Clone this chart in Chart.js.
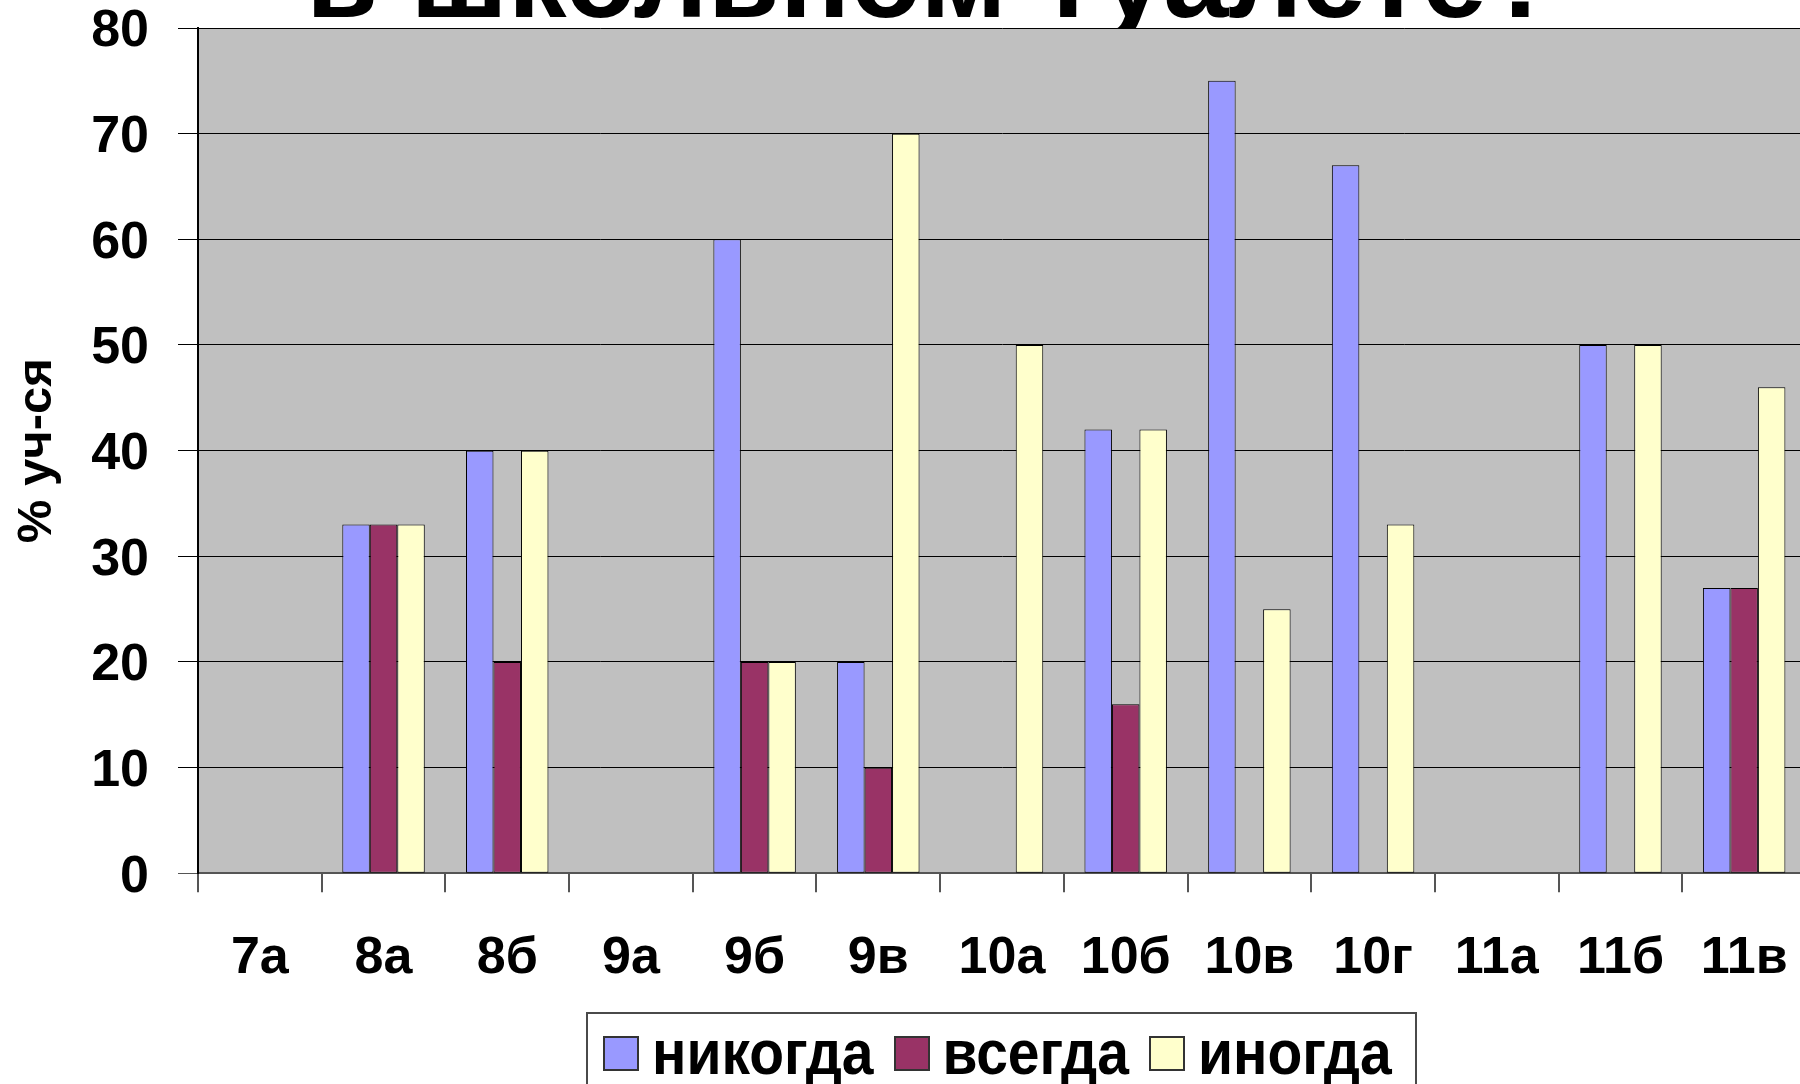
<!DOCTYPE html>
<html lang="ru">
<head>
    <meta charset="UTF-8">
    <meta name="viewport" content="width=device-width, initial-scale=1.0">
    <title>в школьном туалете?</title>
    <!-- Include Chart.js -->
    <script src="https://cdn.jsdelivr.net/npm/chart.js"></script>
    <style>
        html, body { margin: 0; padding: 0; width: 1800px; height: 1084px; overflow: hidden; background: #fff; }
        body { position: relative; font-family: "Liberation Sans", Arial, sans-serif; font-weight: bold; }
        #title { position: absolute; left: 306px; top: -82px; font-size: 117px; line-height: 1; white-space: nowrap; color: #000; z-index: 0; }
        #classChart { position: absolute; left: 0; top: 0; z-index: 1; }
        #legend { position: absolute; left: 586px; top: 1012px; width: 831px; height: 100px; box-sizing: border-box;
                  border: 2px solid #4a4a4a; background: #fff; display: flex; align-items: flex-start;
                  padding: 22px 0 0 15px; z-index: 2; }
        .item { display: flex; align-items: flex-start; margin-right: 20px; }
        .swatch { width: 36px; height: 35px; box-sizing: border-box; border: 2px solid #333; margin-right: 13px; }
        .label { font-size: 57px; line-height: 1; margin-top: -10px; transform: scaleY(1.12); transform-origin: 50% 48px; color: #000; }
    </style>
</head>
<body>
    <div id="title">в школьном туалете?</div>
    <canvas id="classChart" width="1830" height="1012"></canvas>
    <div id="legend"></div>

    <script>
        // Data
        const classes = ['7а', '8а', '8б', '9а', '9б', '9в', '10а', '10б', '10в', '10г', '11а', '11б', '11в'];
        const never = [0, 33, 40, 0, 60, 20, 0, 42, 75, 67, 0, 50, 27];
        const always = [0, 33, 20, 0, 20, 10, 0, 16, 0, 0, 0, 0, 27];
        const sometimes = [0, 33, 40, 0, 20, 70, 50, 42, 25, 33, 0, 50, 46];
        const seriesNames = ['никогда', 'всегда', 'иногда'];
        const seriesColors = ['#9999FF', '#993366', '#FFFFCC'];
        const yTicks = [0, 10, 20, 30, 40, 50, 60, 70, 80];

        const fontFamily = '"Liberation Sans", Arial, sans-serif';
        Chart.defaults.font.family = fontFamily;

        // Grey plot area like the old Excel charts
        const plotBackground = {
            id: 'plotBackground',
            beforeDraw(chart) {
                const { ctx, chartArea } = chart;
                ctx.save();
                ctx.fillStyle = '#C0C0C0';
                ctx.fillRect(chartArea.left, chartArea.top, chartArea.right - chartArea.left, chartArea.bottom - chartArea.top);
                ctx.restore();
            }
        };

        const seriesData = [never, always, sometimes];
        const datasets = seriesNames.map((name, i) => ({
            label: name,
            data: seriesData[i],
            backgroundColor: seriesColors[i],
            borderColor: '#000',
            borderWidth: 1,
            borderSkipped: false,
            categoryPercentage: 2 / 3,
            barPercentage: 1
        }));

        const ctx = document.getElementById('classChart').getContext('2d');
        new Chart(ctx, {
            type: 'bar',
            data: { labels: classes, datasets: datasets },
            options: {
                responsive: false,
                animation: false,
                devicePixelRatio: 1,
                layout: { padding: { top: 0, right: 24, left: 0, bottom: 0 } },
                plugins: {
                    legend: { display: false },
                    tooltip: { enabled: false }
                },
                scales: {
                    x: {
                        grid: { offset: true, drawOnChartArea: false, drawTicks: true, tickLength: 19, color: '#555', lineWidth: 2 },
                        border: { display: true, color: '#555', width: 2 },
                        ticks: { font: { size: 52, weight: 'bold' }, color: '#000', padding: 35, maxRotation: 0, autoSkip: false },
                        afterFit: (scale) => { scale.height = 138.7; }
                    },
                    y: {
                        min: 0,
                        max: 80,
                        afterBuildTicks: (scale) => { scale.ticks = yTicks.map(v => ({ value: v })); },
                        ticks: { font: { size: 52, weight: 'bold', lineHeight: 1 }, color: '#000', padding: 29, labelOffset: 4 },
                        grid: { color: (c) => (c.tick && c.tick.value === 0 ? '#555' : '#000'), lineWidth: 1, tickLength: 20 },
                        border: { color: '#000', width: 2 },
                        title: { display: true, text: '% уч-ся', color: '#000', font: { size: 49, weight: 'bold' }, padding: { top: 8, bottom: 0 } },
                        afterFit: (scale) => {
                            scale.width = 198;
                            scale.paddingTop = 28;
                            scale.paddingBottom = 26;
                        }
                    }
                }
            },
            plugins: [plotBackground]
        });

        // Legend in a framed box below the chart
        const legend = document.getElementById('legend');
        seriesNames.forEach((name, i) => {
            const item = document.createElement('div');
            item.className = 'item';
            item.innerHTML = `<div class="swatch" style="background:${seriesColors[i]}"></div><div class="label">${name}</div>`;
            legend.appendChild(item);
        });
    </script>
</body>
</html>
